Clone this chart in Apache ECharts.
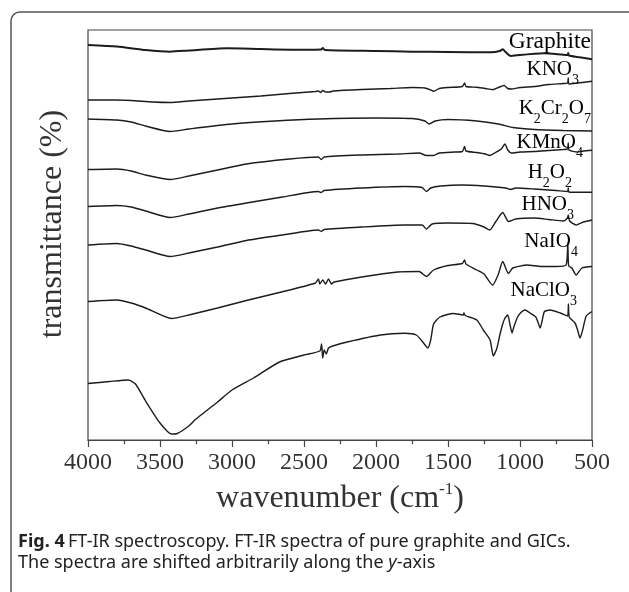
<!DOCTYPE html>
<html>
<head>
<meta charset="utf-8">
<script src="https://cdn.jsdelivr.net/npm/echarts@6/dist/echarts.min.js"></script>
<style>
  html, body { margin: 0; padding: 0; background: #ffffff; }
  #chart { width: 629px; height: 592px; }
</style>
</head>
<body>
<div id="chart"></div>
<script>
// FT-IR spectra, [wavenumber (cm-1), transmittance (a.u., arbitrarily shifted)]
const graphite = [
  [4000, 395], [3800, 393.5], [3600, 390], [3430, 388.3], [3300, 389.5], [3040, 391.7],
  [2800, 391], [2500, 390.3], [2380, 390.5], [2370, 392], [2355, 390], [2000, 389],
  [1750, 388.3], [1500, 388], [1200, 387.7], [1140, 389], [1120, 390.7], [1100, 388],
  [1065, 384], [1000, 385], [900, 386.2], [835, 386.7], [700, 385.2], [670, 385],
  [665, 387], [660, 384.5], [600, 383], [500, 380.7]
]
const kno3 = [
  [4000, 340], [3800, 340], [3700, 339.5], [3550, 338], [3430, 337.5], [3300, 339],
  [3000, 342], [2800, 344], [2600, 346.5], [2420, 348.5], [2400, 349], [2385, 347.5],
  [2370, 349.5], [2350, 348], [2320, 348], [2300, 349], [2100, 350.5], [1900, 351.5],
  [1750, 352.5], [1660, 352], [1620, 350], [1600, 348.7], [1560, 351.5], [1500, 352.5],
  [1400, 353.5], [1385, 357], [1375, 353.5], [1300, 352.7], [1240, 351.5], [1190, 350.3],
  [1150, 352.5], [1110, 354.5], [1085, 351.5], [1060, 351], [1000, 352.5], [900, 353.5],
  [800, 355.5], [700, 356.5], [670, 357], [665, 362], [660, 356], [600, 357], [500, 358.7]
]
const k2cr2o7 = [
  [4000, 321], [3800, 320], [3700, 318], [3600, 314], [3430, 308.5], [3300, 311],
  [3000, 316], [2700, 319], [2400, 321], [2000, 322], [1750, 321.5], [1660, 319],
  [1630, 316], [1590, 319], [1500, 320.5], [1300, 319], [1150, 316], [1050, 312.5],
  [900, 310.5], [700, 309.5], [500, 309]
]
const kmno4 = [
  [4000, 270.5], [3800, 271], [3700, 269], [3600, 265], [3430, 260.5], [3300, 264],
  [3100, 270], [2900, 276], [2600, 281], [2400, 283], [2380, 280.5], [2360, 283],
  [2100, 285], [1850, 286], [1700, 287], [1650, 284.5], [1600, 284.5], [1560, 287],
  [1450, 288], [1400, 288.5], [1385, 293.5], [1375, 289], [1300, 287.5], [1240, 286],
  [1210, 284.5], [1170, 287.5], [1130, 291], [1105, 296], [1085, 290], [1060, 287],
  [1000, 288], [900, 288.5], [800, 289.5], [700, 290.5], [670, 291], [665, 297],
  [660, 290], [600, 288], [560, 289], [500, 289.7]
]
const h2o2 = [
  [4000, 233.5], [3800, 234.5], [3700, 233], [3600, 229], [3430, 222.5], [3300, 226],
  [3100, 232], [2900, 237], [2650, 243], [2400, 248.5], [2380, 247.5], [2360, 249.5],
  [2100, 252], [1800, 253.5], [1680, 252.5], [1650, 248.5], [1620, 252], [1550, 254],
  [1400, 255], [1250, 254], [1100, 252], [1065, 250.5], [1030, 252], [900, 251],
  [750, 249.5], [670, 248.5], [665, 252], [660, 248], [600, 247.7], [500, 247.7]
]
const hno3 = [
  [4000, 195], [3800, 196.5], [3700, 194], [3600, 190], [3430, 183.5], [3300, 187],
  [3100, 193], [2900, 199.5], [2650, 205], [2400, 210], [2380, 208.5], [2360, 210.5],
  [2100, 213], [1800, 215], [1680, 215], [1650, 211], [1610, 216], [1500, 217],
  [1330, 216.5], [1250, 213], [1210, 210], [1170, 218], [1120, 227.5], [1080, 218.5],
  [1030, 221], [900, 222], [800, 220.5], [700, 219], [670, 222], [665, 225],
  [655, 219], [610, 215], [560, 218], [500, 220]
]
const naio4 = [
  [4000, 138.5], [3800, 140], [3700, 137], [3600, 132], [3420, 121.5], [3300, 125],
  [3100, 132], [2900, 139.5], [2600, 150], [2420, 157], [2400, 161], [2390, 156],
  [2370, 160], [2350, 156], [2330, 161], [2310, 156], [2290, 158], [2100, 163],
  [1850, 168], [1700, 168.5], [1650, 163.5], [1600, 170], [1500, 174.5], [1400, 176.5],
  [1385, 180], [1375, 176], [1300, 170], [1250, 166], [1190, 155], [1150, 166],
  [1120, 178.5], [1080, 166.5], [1050, 172], [950, 175], [850, 173.5], [750, 173.5],
  [680, 175], [668, 197], [662, 174], [640, 172], [610, 165], [570, 172], [500, 173.5]
]
const naclo3 = [
  [4000, 56.5], [3850, 58.5], [3720, 60], [3670, 56], [3600, 39], [3500, 17],
  [3420, 6], [3380, 6.5], [3300, 14], [3250, 21], [3100, 38], [3000, 50],
  [2850, 62], [2670, 78], [2500, 85], [2390, 89], [2378, 96], [2370, 82],
  [2360, 90], [2345, 86], [2330, 92], [2300, 94], [2200, 98], [1970, 105],
  [1800, 106.7], [1720, 105], [1670, 97], [1640, 92], [1620, 100], [1600, 116],
  [1556, 123], [1463, 126.5], [1394, 125], [1390, 127], [1380, 124.5], [1300, 120],
  [1255, 110], [1208, 100], [1185, 84], [1160, 92], [1140, 105], [1120, 116],
  [1104, 122], [1085, 125], [1069, 115], [1055, 107], [1045, 112], [1020, 122],
  [1000, 126.5], [965, 130], [930, 127], [890, 123], [873, 117], [860, 112],
  [845, 120], [830, 128.5], [790, 130], [720, 127], [670, 124], [664, 136],
  [658, 123], [618, 117], [600, 110], [583, 102], [565, 110], [540, 124], [500, 128.5]
]

const seriesNames = ['Graphite', 'KNO3', 'K2Cr2O7', 'KMnO4', 'H2O2', 'HNO3', 'NaIO4', 'NaClO3']
const seriesData = [graphite, kno3, k2cr2o7, kmno4, h2o2, hno3, naio4, naclo3]
// label text with subscripts, as rich-text strings
const seriesLabels = [
  '{g|Graphite}',
  '{m|KNO}{s|3}',
  '{m|K}{s|2}{m|Cr}{s|2}{m|O}{s|7}',
  '{m|KMnO}{s|4}',
  '{m|H}{s|2}{m|O}{s|2}',
  '{m|HNO}{s|3}',
  '{m|NaIO}{s|4}',
  '{m|NaClO}{s|3}'
]
const xTicks = { min: 500, max: 4000, step: 500 }

const SERIF = '"Liberation Serif", "DejaVu Serif", serif'
const SANS = '"Noto Sans", "Open Sans", sans-serif'

const labelRich = {
  g: { fontFamily: SERIF, fontSize: 23.5, color: '#333' },
  m: { fontFamily: SERIF, fontSize: 21, color: '#333' },
  s: { fontFamily: SERIF, fontSize: 14, color: '#333', padding: [22, 0, 0, 0] }
}

// right edge x, middle y of each curve label
const labelPos = [
  [591, 42], [579, 69], [591, 108], [583, 142],
  [572, 172], [574, 204], [578, 241], [577, 290]
]

const chart = echarts.init(document.getElementById('chart'), null, { renderer: 'canvas' })

const option = {
  animation: false,
  backgroundColor: '#ffffff',
  grid: {
    left: 88,
    right: 37,
    top: 30,
    bottom: 152,
    show: true,
    borderColor: '#444',
    borderWidth: 1.2
  },
  xAxis: {
    type: 'value',
    inverse: true,
    min: xTicks.min,
    max: xTicks.max,
    interval: xTicks.step,
    name: '{t|wavenumber (cm}{sup|-1}{t|)}',
    nameLocation: 'middle',
    nameGap: 41,
    nameTextStyle: {
      rich: {
        t: { fontFamily: SERIF, fontSize: 32, color: '#333' },
        sup: { fontFamily: SERIF, fontSize: 17, color: '#333', padding: [0, 0, 18, 0] }
      }
    },
    axisLine: { show: true, lineStyle: { color: '#444', width: 1.2 } },
    axisTick: { show: true, inside: false, length: 7, lineStyle: { color: '#444', width: 1.2 } },
    minorTick: { show: true, splitNumber: 2, length: 4, lineStyle: { color: '#444', width: 1.2 } },
    axisLabel: {
      fontFamily: SERIF,
      fontSize: 24,
      color: '#333',
      margin: 11,
      formatter: v => String(v)
    },
    splitLine: { show: false }
  },
  yAxis: {
    type: 'value',
    min: 0,
    max: 410,
    axisLine: { show: false },
    axisTick: { show: false },
    axisLabel: { show: false },
    splitLine: { show: false }
  },
  series: seriesData.map((d, i) => ({
    name: seriesNames[i],
    type: 'line',
    data: d,
    showSymbol: false,
    smooth: 0.2,
    lineStyle: { color: '#1c1c1c', width: i === 0 ? 2 : 1.4 }
  })),
  graphic: [
    {
      type: 'rect',
      shape: { x: 11, y: 12, width: 660, height: 620, r: 9 },
      style: { fill: 'none', stroke: '#555', lineWidth: 1.5 },
      z: -1
    },
    {
      type: 'text',
      x: 53,
      y: 224,
      rotation: Math.PI / 2,
      style: {
        text: 'transmittance (%)',
        fontFamily: SERIF,
        fontSize: 32,
        fill: '#333',
        align: 'center',
        verticalAlign: 'middle'
      }
    },
    ...seriesLabels.map((t, i) => ({
      type: 'text',
      x: labelPos[i][0],
      y: labelPos[i][1],
      style: {
        text: t,
        rich: labelRich,
        align: 'right',
        verticalAlign: 'middle'
      },
      z: 10
    })),
    {
      type: 'text',
      x: 18,
      y: 542,
      style: {
        text: '{b|Fig. 4} {r|FT-IR spectroscopy. FT-IR spectra of pure graphite and GICs.}',
        rich: {
          b: { fontFamily: SANS, fontSize: 18, fontWeight: 'bold', fill: '#222' },
          r: { fontFamily: SANS, fontSize: 18, fill: '#222' }
        },
        verticalAlign: 'middle'
      }
    },
    {
      type: 'text',
      x: 18,
      y: 563,
      style: {
        text: '{r|The spectra are shifted arbitrarily along the }{i|y}{r|-axis}',
        rich: {
          r: { fontFamily: SANS, fontSize: 18, fill: '#222' },
          i: { fontFamily: SANS, fontSize: 18, fontStyle: 'italic', fill: '#222' }
        },
        verticalAlign: 'middle'
      }
    }
  ]
}

chart.setOption(option)
</script>
</body>
</html>
